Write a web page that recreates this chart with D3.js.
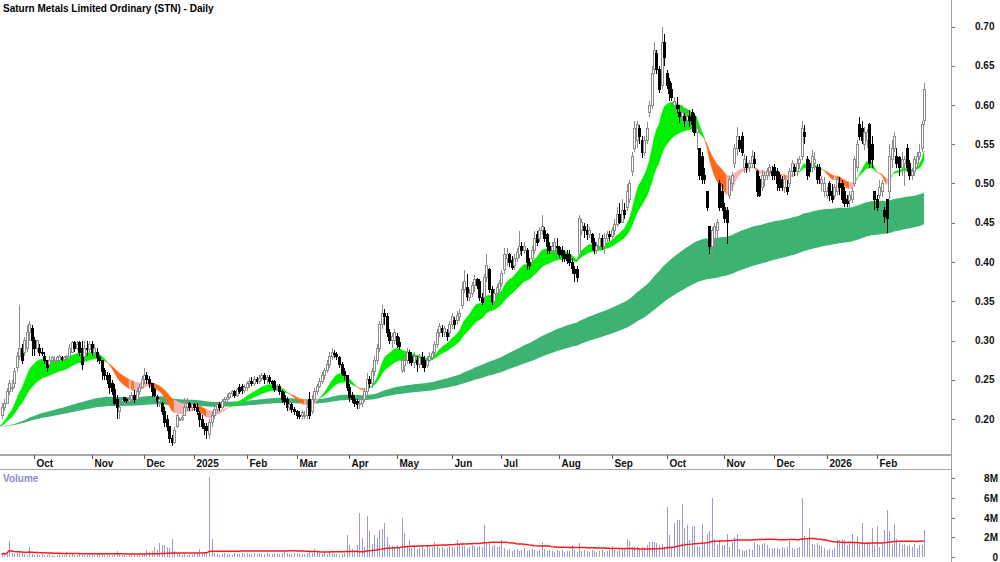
<!DOCTYPE html>
<html>
<head>
<meta charset="utf-8">
<script src="https://cdn.jsdelivr.net/npm/d3@7"></script>
<style>
  body { margin: 0; background: #fff; }
  svg { display: block; font-family: "Liberation Sans", Arial, sans-serif; font-weight: bold; }
</style>
</head>
<body>
<svg id="chart" width="1000" height="562"></svg>
<script>
// daily bars, 12 Sep 2024 .. 27 Feb 2026 (370 trading days)
var opens = [
  .205,.215,.22,.235,.24,.245,.265,.28,.29,.285, .29,.31,.315,.30,.29,.29,.285,.28,.275,.27,
  .275,.275,.275,.275,.278,.276,.278,.28,.285,.298, .29,.298,.29,.28,.29,.288,.295,.285,.285,.278,
  .275,.262,.255,.255,.245,.238,.225,.21,.222,.227, .225,.222,.225,.23,.225,.235,.24,.25,.255,.25,
  .245,.238,.228,.222,.22,.21,.20,.19,.175,.17, .19,.20,.20,.205,.215,.22,.215,.218,.215,.207,
  .20,.19,.19,.18,.195,.205,.212,.218,.215,.222, .225,.228,.232,.235,.23,.24,.242,.236,.24,.245,
  .248,.245,.25,.248,.252,.255,.25,.253,.248,.248, .24,.242,.235,.23,.225,.215,.218,.212,.21,.205,
  .205,.205,.205,.225,.21,.225,.235,.242,.248,.255, .262,.27,.28,.283,.282,.278,.27,.26,.255,.24,
  .23,.225,.222,.218,.22,.225,.235,.25,.245,.26, .275,.29,.32,.335,.33,.31,.30,.30,.305,.298,
  .262,.268,.275,.285,.28,.272,.275,.27,.278,.275, .268,.275,.278,.285,.295,.31,.315,.31,.31,.31,
  .32,.325,.325,.33,.345,.365,.367,.355,.36,.37, .378,.375,.355,.355,.38,.39,.365,.35,.36,.365,
  .372,.39,.405,.41,.402,.395,.405,.41,.42,.415, .415,.40,.405,.415,.435,.43,.44,.44,.435,.42,
  .415,.415,.42,.418,.415,.41,.41,.41,.40,.39, .39,.41,.44,.445,.44,.435,.435,.425,.415,.42,
  .43,.42,.43,.435,.432,.44,.448,.46,.45,.465, .47,.48,.515,.545,.555,.57,.555,.54,.555,.59,
  .60,.645,.665,.645,.625,.68,.64,.63,.62,.60, .60,.59,.585,.585,.58,.585,.59,.585,.565,.545,
  .535,.51,.49,.445,.42,.43,.44,.50,.49,.47, .465,.485,.50,.525,.545,.555,.56,.52,.525,.52,
  .525,.53,.515,.505,.495,.505,.51,.515,.515,.52, .515,.51,.505,.495,.495,.50,.515,.52,.515,.525,
  .535,.565,.53,.525,.52,.525,.52,.52,.50,.49, .485,.50,.49,.485,.49,.50,.50,.49,.48,.478,
  .48,.50,.52,.575,.57,.55,.555,.575,.55,.49, .48,.485,.49,.465,.48,.49,.53,.545,.535,.533,
  .52,.525,.545,.525,.51,.515,.525,.535,.545,.58
];
var highs = [
  .22,.225,.24,.25,.25,.265,.285,.345,.295,.305, .32,.325,.32,.305,.30,.295,.29,.285,.275,.28,
  .28,.28,.28,.282,.28,.28,.282,.295,.30,.30, .30,.30,.30,.30,.30,.30,.30,.295,.29,.28,
  .275,.265,.26,.258,.25,.245,.23,.22,.227,.227, .227,.23,.235,.237,.24,.245,.255,.265,.26,.255,
  .245,.24,.23,.228,.222,.215,.205,.19,.18,.19, .207,.203,.205,.227,.227,.222,.22,.22,.22,.21,
  .205,.195,.195,.20,.21,.22,.222,.222,.225,.228, .232,.235,.237,.237,.24,.245,.245,.245,.248,.252,
  .253,.255,.253,.256,.258,.258,.256,.256,.25,.25, .245,.245,.237,.235,.228,.222,.22,.215,.212,.21,
  .212,.21,.22,.235,.23,.24,.245,.252,.26,.265, .275,.285,.29,.288,.285,.28,.272,.265,.255,.245,
  .235,.23,.225,.225,.23,.24,.258,.255,.265,.28, .295,.325,.345,.34,.335,.315,.31,.315,.31,.305,
  .28,.28,.29,.288,.285,.285,.28,.283,.285,.28, .28,.285,.287,.30,.315,.322,.32,.318,.315,.325,
  .335,.33,.338,.34,.375,.39,.385,.365,.375,.383, .38,.378,.36,.385,.41,.392,.37,.365,.372,.377,
  .39,.418,.418,.412,.408,.41,.418,.44,.425,.425, .418,.405,.42,.44,.44,.445,.46,.445,.437,.425,
  .425,.43,.43,.42,.42,.415,.415,.415,.405,.395, .395,.46,.455,.45,.448,.445,.437,.43,.425,.437,
  .435,.437,.44,.44,.445,.455,.47,.475,.48,.475, .50,.505,.54,.58,.58,.575,.56,.56,.578,.605,
  .65,.68,.67,.65,.70,.69,.645,.635,.628,.61, .61,.60,.60,.59,.594,.594,.595,.59,.575,.545,
  .54,.52,.49,.445,.445,.45,.455,.505,.50,.475, .47,.51,.515,.55,.572,.56,.565,.538,.535,.53,
  .543,.54,.517,.51,.517,.515,.52,.525,.522,.525, .52,.515,.51,.508,.505,.52,.53,.525,.533,.535,
  .58,.575,.535,.53,.543,.54,.525,.525,.51,.508, .495,.503,.50,.50,.508,.508,.505,.495,.485,.49,
  .495,.535,.555,.585,.58,.572,.57,.577,.56,.49, .485,.505,.505,.47,.48,.55,.555,.565,.545,.535,
  .54,.535,.55,.53,.52,.535,.54,.55,.58,.628
];
var lows = [
  .20,.21,.22,.23,.235,.24,.26,.275,.27,.28, .285,.30,.28,.28,.285,.28,.28,.27,.26,.265,
  .272,.27,.273,.273,.274,.273,.275,.28,.284,.285, .288,.28,.262,.275,.28,.285,.28,.28,.272,.27,
  .25,.25,.245,.232,.23,.218,.20,.20,.22,.222, .22,.22,.222,.22,.222,.23,.238,.245,.245,.24,
  .228,.228,.215,.215,.205,.19,.185,.17,.165,.168, .188,.197,.198,.205,.21,.21,.21,.21,.205,.19,
  .187,.18,.175,.175,.19,.20,.208,.21,.213,.218, .222,.225,.228,.227,.228,.232,.232,.233,.236,.24,
  .242,.242,.244,.245,.248,.245,.245,.244,.24,.235, .236,.23,.22,.218,.21,.21,.208,.205,.20,.20,
  .20,.20,.20,.20,.207,.222,.23,.24,.245,.25, .258,.265,.275,.278,.275,.265,.255,.25,.236,.222,
  .22,.215,.213,.213,.215,.222,.23,.24,.24,.255, .27,.285,.315,.32,.305,.295,.29,.295,.29,.288,
  .258,.26,.27,.27,.268,.265,.26,.265,.265,.26, .265,.272,.275,.28,.29,.305,.305,.305,.30,.305,
  .315,.315,.32,.325,.34,.36,.35,.35,.355,.362, .365,.35,.345,.35,.375,.36,.345,.345,.355,.36,
  .368,.385,.395,.393,.39,.39,.40,.405,.408,.41, .39,.39,.40,.41,.42,.425,.435,.425,.41,.41,
  .41,.408,.41,.405,.40,.40,.398,.395,.385,.375, .375,.405,.435,.43,.428,.43,.415,.41,.41,.415,
  .415,.41,.425,.427,.428,.435,.445,.448,.45,.455, .465,.475,.51,.54,.545,.55,.533,.535,.55,.585,
  .595,.64,.64,.615,.62,.65,.62,.605,.605,.59, .59,.577,.577,.572,.575,.572,.565,.56,.543,.505,
  .50,.50,.465,.41,.40,.42,.43,.465,.465,.45, .423,.48,.49,.52,.535,.54,.535,.513,.513,.515,
  .52,.52,.483,.483,.49,.495,.505,.508,.505,.505, .49,.49,.49,.488,.485,.495,.508,.51,.51,.518,
  .53,.55,.505,.508,.515,.517,.50,.50,.49,.483, .48,.478,.475,.48,.485,.485,.475,.47,.47,.47,
  .475,.495,.515,.555,.55,.543,.545,.52,.52,.466, .465,.48,.483,.45,.437,.48,.52,.54,.52,.51,
  .51,.497,.515,.505,.505,.51,.52,.53,.54,.575
];
var closes = [
  .215,.22,.235,.245,.24,.26,.28,.29,.275,.30, .31,.32,.30,.29,.30,.285,.283,.275,.265,.275,
  .278,.275,.278,.28,.276,.278,.28,.29,.298,.29, .295,.285,.27,.29,.288,.295,.285,.29,.278,.275,
  .26,.255,.25,.24,.235,.22,.215,.215,.225,.223, .223,.225,.23,.225,.235,.24,.25,.255,.25,.245,
  .235,.23,.222,.225,.21,.195,.19,.175,.17,.185, .205,.20,.202,.215,.22,.215,.218,.215,.21,.20,
  .19,.188,.185,.195,.205,.212,.218,.215,.222,.225, .228,.232,.235,.23,.237,.235,.236,.24,.245,.248,
  .245,.25,.248,.252,.255,.25,.253,.248,.245,.238, .24,.235,.225,.222,.215,.218,.212,.21,.205,.203,
  .208,.205,.215,.205,.225,.235,.242,.248,.255,.262, .27,.28,.285,.282,.28,.27,.258,.255,.24,.228,
  .225,.22,.218,.22,.225,.235,.25,.245,.26,.275, .29,.32,.335,.33,.31,.30,.305,.31,.295,.292,
  .275,.275,.285,.275,.272,.28,.27,.278,.27,.265, .275,.28,.283,.295,.31,.318,.31,.315,.305,.32,
  .33,.32,.332,.335,.365,.375,.356,.36,.37,.378, .37,.355,.348,.38,.395,.365,.35,.36,.368,.372,
  .385,.41,.41,.40,.393,.405,.412,.42,.415,.42, .40,.395,.415,.43,.425,.44,.445,.43,.42,.415,
  .42,.425,.418,.41,.408,.405,.402,.40,.392,.385, .38,.455,.45,.44,.435,.44,.425,.415,.42,.43,
  .42,.43,.435,.432,.44,.448,.46,.45,.465,.46, .49,.50,.535,.57,.575,.56,.54,.555,.57,.60,
  .64,.67,.645,.62,.68,.66,.625,.615,.61,.605, .595,.585,.59,.58,.585,.58,.575,.565,.57,.51,
  .505,.505,.47,.42,.44,.445,.45,.47,.47,.455, .45,.505,.51,.545,.56,.545,.54,.53,.52,.525,
  .535,.525,.49,.485,.51,.51,.515,.52,.51,.51, .50,.495,.495,.505,.49,.515,.525,.515,.525,.53,
  .57,.56,.51,.515,.535,.53,.505,.51,.505,.50, .49,.485,.48,.495,.505,.495,.48,.475,.475,.485,
  .49,.53,.55,.56,.555,.565,.565,.525,.53,.48, .47,.495,.50,.458,.455,.535,.545,.56,.525,.52,
  .53,.53,.52,.51,.515,.53,.535,.54,.575,.62
];
// volume, millions
var volumes = [
  .3,.4,.3,1.6,.4,.3,.4,.5,.4,.3, .2,1.0,.3,.2,.3,.2,.3,.2,.2,.3,
  .2,.1,.2,.3,.2,.2,.5,.2,.3,.2, .2,.3,.2,.2,.2,.3,.3,.2,.3,.4,
  .3,.2,.3,.2,.2,.4,.6,.3,.2,.2, .1,.2,.2,.3,.2,.2,.3,.3,.75,.5,
  .6,1.0,.7,1.4,1.25,1.2,1.0,.9,1.8,.6, .4,.3,.2,.3,.2,.3,.2,.3,.4,.85,
  .3,.4,.5,8.1,1.85,.4,.3,.2,.3,.4, .3,.3,.2,.4,.3,.3,.4,.3,.4,.3,
  .3,.4,.3,.4,.3,.3,.4,.3,.3,.4, .3,.3,.4,.5,.4,.3,.3,.4,.3,.4,
  .3,.3,.4,.5,.4,.8,.6,.4,.3,.4, .3,.6,.4,.3,.3,.2,.3,.4,2.2,1.25,
  .8,.6,1.2,4.5,1.9,1.0,4.2,2.6,1.3,2.2, 1.9,2.75,2.8,3.4,2.0,1.2,1.1,1.0,1.2,1.0,
  4.0,2.4,1.2,1.7,.9,1.0,.8,.9,1.0,.8, 1.1,.9,1.0,1.5,1.1,.9,1.0,.8,.9,1.1,
  1.0,.9,1.75,1.2,1.4,1.1,.9,1.0,1.2,1.1, 1.0,1.1,1.0,3.2,1.5,1.5,1.1,1.2,1.0,1.1,
  1.75,.9,.7,.8,.6,.7,.8,.6,.7,.9, .6,.7,.8,.7,.6,.7,1.5,.8,.6,.7,
  .6,.5,.7,.6,.7,.5,.6,.6,1.25,.7, .5,1.4,.6,.7,.6,.5,.7,.6,.5,.6,
  .7,.5,.6,.7,1.15,.7,.6,.8,.9,.8, 1.8,1.6,1.0,1.1,1.0,.9,1.0,.9,1.2,1.5,
  1.5,1.5,1.4,1.2,1.3,1.0,5.05,2.25,1.0,3.4, 3.7,3.7,5.35,2.9,3.2,1.75,3.0,3.1,1.1,1.0,
  3.35,1.4,2.35,2.65,6.0,1.8,1.2,1.75,1.2,1.2, 2.3,1.0,1.5,2.0,2.3,.8,.7,.6,.7,.8,
  .7,1.5,1.3,1.2,1.3,1.4,1.2,.9,.8,.9, .9,.8,1.0,.9,1.0,1.6,.9,.8,.9,1.0,
  6.0,2.1,1.8,2.9,1.3,1.2,1.4,1.2,1.1,.9, .7,.8,.7,.9,1.8,1.7,1.8,1.7,1.2,1.3,
  2.3,1.4,2.0,1.2,3.4,1.3,1.5,1.4,2.9,1.2, 3.1,1.0,1.4,2.7,4.8,2.6,1.2,3.3,1.8,1.4,
  1.2,1.3,1.1,1.2,1.0,1.3,.9,1.25,1.25,2.75
];
var priorClose = 0.19;

// axis labels
var monthStarts = [13, 36, 57, 77, 98, 118, 139, 158, 180, 200, 223, 244, 266, 289, 309, 330, 350];
var monthLabels = ["Oct", "Nov", "Dec", "2025", "Feb", "Mar", "Apr", "May", "Jun", "Jul", "Aug", "Sep", "Oct", "Nov", "Dec", "2026", "Feb"];
var priceTicks = [0.20, 0.25, 0.30, 0.35, 0.40, 0.45, 0.50, 0.55, 0.60, 0.65, 0.70];
var volTicks = [0, 2, 4, 6, 8];

var svg = d3.select("#chart");
var x = d3.scaleLinear().domain([0, closes.length - 1]).range([1.5, 924]);
var y = d3.scaleLinear().domain([0.20, 0.70]).range([419, 26.5]);
var yv = d3.scaleLinear().domain([0, 8]).range([557, 478]);

function ema(vals, n, seed) {
  var a = 2 / (n + 1), e = seed;
  return [seed].concat(vals.map(function(v) { e = e + a * (v - e); return e; }));
}

// indicator series start one bar before the first visible bar
var fast = ema(closes, 15, priorClose), slow = ema(closes, 30, priorClose);
var longA = ema(closes, 150, priorClose), longB = ema(closes, 240, priorClose);
var idx = d3.range(-1, closes.length);

// long term band
svg.append("path")
  .datum(idx)
  .attr("fill", "#3cb371")
  .attr("d", d3.area()
    .x(function(i) { return x(i); })
    .y0(function(i) { return y(longA[i + 1]); })
    .y1(function(i) { return y(longB[i + 1]); }));

// short term band, coloured by trend
var segColor = idx.map(function(i) {
  var d = fast[i + 1] - slow[i + 1];
  if (d >= 0) return "#00f000";
  var prev = i >= 0 ? fast[i] - slow[i] : 0;
  return d < prev ? "#ff6a1a" : "#f7b2b2";
});
var runs = [];
for (var k = 1; k < idx.length; k++) {
  if (runs.length && runs[runs.length - 1].c === segColor[k]) runs[runs.length - 1].end = k;
  else runs.push({ c: segColor[k], start: k - 1, end: k });
}
var shortArea = d3.area()
  .x(function(i) { return x(i); })
  .y0(function(i) { return y(fast[i + 1]); })
  .y1(function(i) { return y(slow[i + 1]); });
runs.forEach(function(r) {
  svg.append("path")
    .datum(idx.slice(r.start, r.end + 1))
    .attr("fill", r.c)
    .attr("stroke", r.c)
    .attr("stroke-width", 0.4)
    .attr("d", shortArea);
});

// candles
var bars = closes.map(function(c, i) {
  return { i: i, o: opens[i], h: highs[i], l: lows[i], c: c, up: c >= opens[i] };
});
var candles = svg.append("g").attr("shape-rendering", "crispEdges");
candles.selectAll("line").data(bars).enter().append("line")
  .attr("x1", function(d) { return Math.round(x(d.i)) + 0.5; })
  .attr("x2", function(d) { return Math.round(x(d.i)) + 0.5; })
  .attr("y1", function(d) { return y(d.h); })
  .attr("y2", function(d) { return y(d.l); })
  .attr("stroke", function(d) { return d.up ? "#8c8c8c" : "#000"; });
candles.selectAll("rect").data(bars).enter().append("rect")
  .attr("x", function(d) { return Math.round(x(d.i)) - 0.5; })
  .attr("width", 2)
  .attr("y", function(d) { return y(Math.max(d.o, d.c)); })
  .attr("height", function(d) { return Math.max(1, Math.abs(y(d.o) - y(d.c))); })
  .attr("fill", function(d) { return d.up ? "#fff" : "#000"; })
  .attr("stroke", function(d) { return d.up ? "#8c8c8c" : "#000"; })
  .attr("stroke-width", 1);

// title
svg.append("text").attr("x", 3).attr("y", 12).attr("font-size", 10).attr("fill", "#000")
  .text("Saturn Metals Limited Ordinary (STN) - Daily");

// right price axis
svg.append("line").attr("x1", 951.5).attr("x2", 951.5).attr("y1", 0).attr("y2", 562)
  .attr("stroke", "#a0a0a0");
var pAxis = svg.append("g");
priceTicks.forEach(function(t) {
  pAxis.append("line").attr("x1", 952).attr("x2", 955).attr("y1", Math.round(y(t)) + 0.5).attr("y2", Math.round(y(t)) + 0.5)
    .attr("stroke", "#777");
  pAxis.append("text").attr("x", 975).attr("y", y(t) + 3.5).attr("font-size", 10).attr("fill", "#111")
    .text(t.toFixed(2));
});

// date axis strip
svg.append("line").attr("x1", 0).attr("x2", 951).attr("y1", 455).attr("y2", 455)
  .attr("stroke", "#a8a8a8").attr("stroke-width", 2);
svg.append("line").attr("x1", 0).attr("x2", 951).attr("y1", 469.5).attr("y2", 469.5)
  .attr("stroke", "#a8a8a8");
monthStarts.forEach(function(m, j) {
  var px = Math.round(x(m)) + 0.5;
  svg.append("line").attr("x1", px).attr("x2", px).attr("y1", 455).attr("y2", 459).attr("stroke", "#555");
  svg.append("text").attr("x", px + 2).attr("y", 467).attr("font-size", 10).attr("fill", "#111")
    .text(monthLabels[j]);
});

// volume panel
svg.append("text").attr("x", 3).attr("y", 482).attr("font-size", 10).attr("fill", "#8a8acb").text("Volume");
svg.append("g").attr("shape-rendering", "crispEdges")
  .selectAll("rect").data(volumes).enter().append("rect")
  .attr("x", function(v, i) { return Math.round(x(i)); })
  .attr("width", 1)
  .attr("y", function(v) { return yv(v); })
  .attr("height", function(v) { return yv(0) - yv(v); })
  .attr("fill", "#9a9ad8");
var volAvg = volumes.map(function(v, i) {
  return d3.mean(volumes.slice(Math.max(0, i - 59), i + 1));
});
svg.append("path").datum(volAvg)
  .attr("fill", "none").attr("stroke", "#ff1a1a").attr("stroke-width", 1.5)
  .attr("d", d3.line().x(function(v, i) { return x(i); }).y(function(v) { return yv(v); }));
volTicks.forEach(function(t) {
  svg.append("line").attr("x1", 952).attr("x2", 955).attr("y1", Math.round(yv(t)) + 0.5).attr("y2", Math.round(yv(t)) + 0.5)
    .attr("stroke", "#777");
  svg.append("text").attr("x", 998).attr("y", yv(t) + 4).attr("text-anchor", "end").attr("font-size", 10).attr("fill", "#111")
    .text(t === 0 ? "0" : t + "M");
});
</script>
</body>
</html>
